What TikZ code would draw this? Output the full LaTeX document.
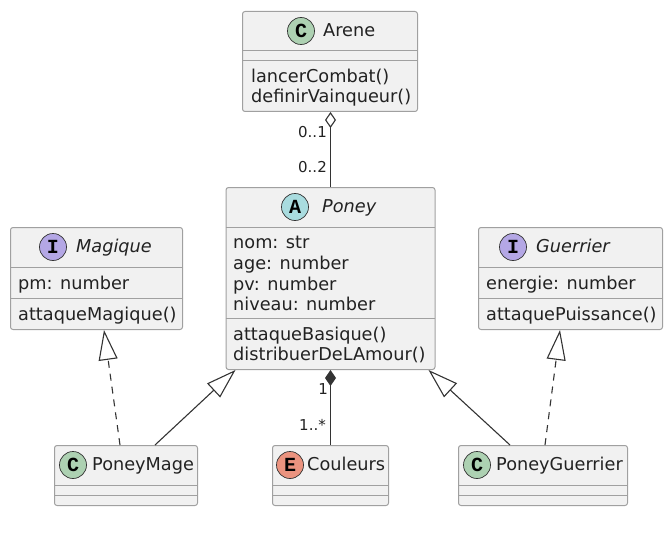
\documentclass[tikz,border=0pt]{standalone}
\usepackage{fontspec}
\setmainfont{DejaVu Sans}
\newfontfamily\glyphfont{Liberation Mono}
\usetikzlibrary{arrows.meta,calc}
\definecolor{boxbg}{HTML}{F1F1F1}
\definecolor{boxln}{HTML}{A0A0A0}
\definecolor{edge}{HTML}{333333}
\definecolor{ink}{HTML}{222222}
\definecolor{cC}{HTML}{ADD1B2}
\definecolor{cA}{HTML}{A9DCDF}
\definecolor{cI}{HTML}{B4A7E5}
\definecolor{cE}{HTML}{EB937F}
\tikzset{
  umlbox/.style={draw=boxln,fill=boxbg,line width=1pt,rounded corners=2.5pt,inner sep=0pt,anchor=north west},
  sep/.style={draw=boxln,line width=1pt},
  badge/.style={circle,draw=edge,line width=0.7pt,minimum size=27pt,inner sep=0pt,font=\glyphfont\bfseries\fontsize{20}{20}\selectfont,text=black},
  label/.style={font=\fontsize{17.7}{17.7}\selectfont,text=ink,inner sep=0pt,anchor=mid west,yshift=-2.5pt},
  member/.style={label,yshift=-2.6pt},
  ilabel/.style={label,font=\fontsize{17.7}{17.7}\selectfont\itshape},
  multi/.style={font=\fontsize{15}{15}\selectfont,text=ink,inner sep=0pt,anchor=mid east,yshift=-3pt},
  link/.style={draw=edge,line width=1.1pt},
  inherit/.style={link,-{Triangle[open,length=30pt,width=19pt,fill=white]}},
  odia/.style={link,{Diamond[open,length=16pt,width=11pt,fill=white]}-},
  fdia/.style={link,{Diamond[length=16pt,width=11pt]}-},
}
\begin{document}
\begin{tikzpicture}[x=1pt,y=-1pt]
\useasboundingbox (0,0) rectangle (671,532);
% boxes
\node[umlbox,minimum width=175pt,minimum height=100pt] (arene) at (242,11) {};
\node[umlbox,minimum width=209pt,minimum height=182pt] (poney) at (225.5,187) {};
\node[umlbox,minimum width=172pt,minimum height=102pt] (magique) at (10,227) {};
\node[umlbox,minimum width=184pt,minimum height=102pt] (guerrier) at (478,227) {};
\node[umlbox,minimum width=143pt,minimum height=60pt] (mage) at (54,445) {};
\node[umlbox,minimum width=116pt,minimum height=60pt] (couleurs) at (272,445) {};
\node[umlbox,minimum width=169pt,minimum height=60pt] (pguerrier) at (458,445) {};
% separators
\draw[sep] (242,51) -- (417,51) (242,61) -- (417,61);
\draw[sep] (225.5,227) -- (434.5,227) (225.5,318) -- (434.5,318);
\draw[sep] (10,267) -- (182,267) (10,298) -- (182,298);
\draw[sep] (478,267) -- (662,267) (478,298) -- (662,298);
\draw[sep] (54,485) -- (197,485) (54,495) -- (197,495);
\draw[sep] (272,485) -- (388,485) (272,495) -- (388,495);
\draw[sep] (458,485) -- (627,485) (458,495) -- (627,495);
% badges
\node[badge,fill=cC] (bArene) at (301,31) {C};
\node[badge,fill=cA] (bPoney) at (295,207) {A};
\node[badge,fill=cI] (bMagique) at (53,247) {I};
\node[badge,fill=cI] (bGuerrier) at (513,247) {I};
\node[badge,fill=cC] (bMage) at (73,465) {C};
\node[badge,fill=cE] (bCouleurs) at (290,465) {E};
\node[badge,fill=cC] (bPG) at (477,465) {C};
% titles
\node[label] (tArene) at (323,31) {Arene};
\node[ilabel] (tPoney) at (322,207) {Poney};
\node[ilabel] (tMagique) at (76,247) {Magique};
\node[ilabel] (tGuerrier) at (536,247) {Guerrier};
\node[label] (tMage) at (92,465) {PoneyMage};
\node[label] (tCouleurs) at (307,465) {Couleurs};
\node[label] (tPG) at (496,465) {PoneyGuerrier};
% members
\node[member] (m1) at (251,75) {lancerCombat()};
\node[member] (m2) at (251,95) {definirVainqueur()};
\node[member] (m3) at (233,241) {nom: str};
\node[member] (m4) at (233,262) {age: number};
\node[member] (m5) at (233,283) {pv: number};
\node[member] (m6) at (233,303) {niveau: number};
\node[member] (m7) at (233,333) {attaqueBasique()};
\node[member] (m8) at (233,353) {distribuerDeLAmour()};
\node[member] (m9) at (18,282) {pm: number};
\node[member] (m10) at (18,313) {attaqueMagique()};
\node[member] (m11) at (486,282) {energie: number};
\node[member] (m12) at (486,313) {attaquePuissance()};
% connectors
\draw[odia,xshift=-0.8pt] (arene.south -| poney.south) -- (poney.north);
\draw[fdia,xshift=-0.8pt] (poney.south) -- (couleurs.north -| poney.south);
\draw[inherit,dash pattern=on 7pt off 6pt] ($(mage.north west)+(66,0)$) -- ($(magique.south west)+(94,0)$);
\draw[inherit] ($(mage.north west)+(101,0)$) -- ($(poney.south west)+(10,0)$);
\draw[inherit,dash pattern=on 7pt off 6pt] ($(pguerrier.north west)+(87,0)$) -- ($(guerrier.south west)+(82,0)$);
\draw[inherit] ($(pguerrier.north west)+(52,0)$) -- ($(poney.south east)+(-7,0)$);
% multiplicities
\node[multi] (l1) at (327,132) {0..1};
\node[multi] (l2) at (327,167) {0..2};
\node[multi] (l3) at (328,389) {1};
\node[multi] (l4) at (326,425) {1..*};
\end{tikzpicture}
\end{document}
